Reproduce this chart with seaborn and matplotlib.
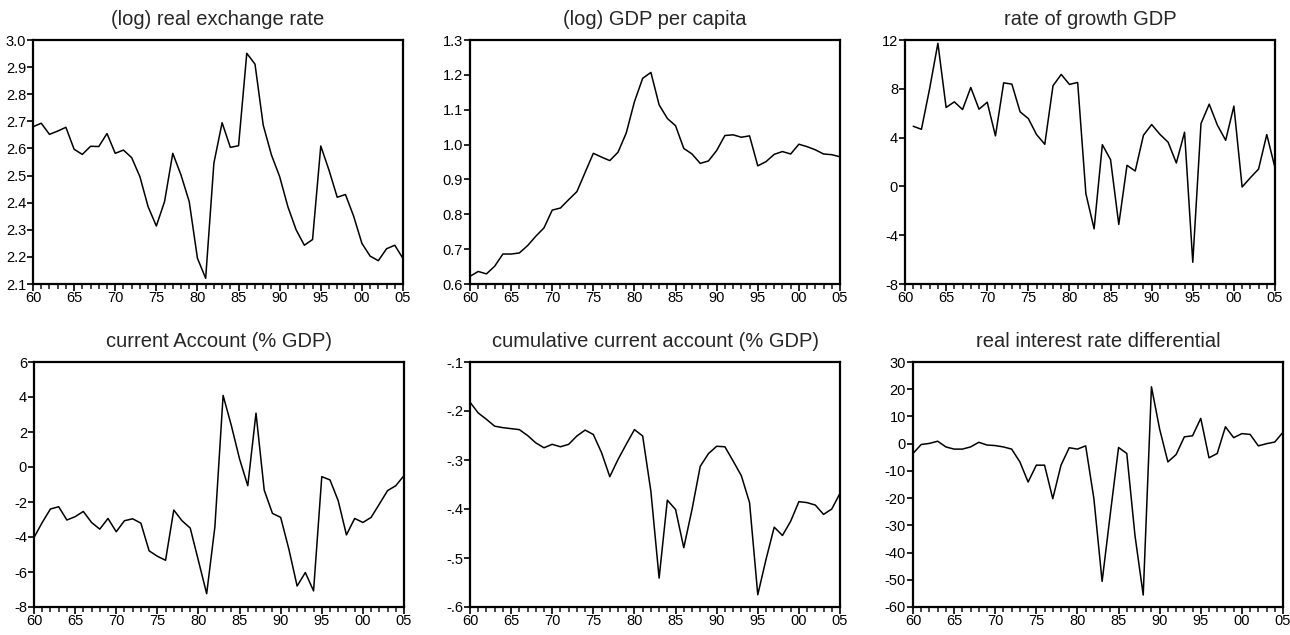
import numpy as np
import pandas as pd
import matplotlib
matplotlib.use("Agg")
import matplotlib.pyplot as plt
from matplotlib.ticker import MultipleLocator
import seaborn as sns

# years 1960-2005
years = list(range(1960, 2006))

# (log) real exchange rate
rer = [2.68, 2.693, 2.652, 2.664, 2.678, 2.597, 2.578, 2.608, 2.607, 2.655,
       2.582, 2.594, 2.566, 2.496, 2.385, 2.314, 2.404, 2.582, 2.502, 2.404,
       2.195, 2.121, 2.546, 2.695, 2.604, 2.61, 2.951, 2.911, 2.686, 2.576,
       2.496, 2.385, 2.30, 2.243, 2.264, 2.609, 2.52, 2.42, 2.43, 2.35,
       2.25, 2.203, 2.186, 2.23, 2.243, 2.194]

# (log) GDP per capita
gdp_pc = [0.622, 0.636, 0.629, 0.651, 0.686, 0.686, 0.689, 0.710, 0.737, 0.761,
          0.812, 0.818, 0.842, 0.865, 0.920, 0.975, 0.964, 0.954, 0.978, 1.033,
          1.123, 1.190, 1.207, 1.114, 1.075, 1.054, 0.989, 0.973, 0.946, 0.953,
          0.983, 1.026, 1.028, 1.021, 1.025, 0.939, 0.951, 0.972, 0.980, 0.973,
          1.001, 0.994, 0.985, 0.973, 0.971, 0.965]

# rate of growth GDP (no value for 1960)
growth = [np.nan, 4.93, 4.68, 8.03, 11.73, 6.47, 6.93, 6.30, 8.11, 6.33,
          6.90, 4.14, 8.49, 8.38, 6.11, 5.56, 4.25, 3.45, 8.25, 9.18,
          8.36, 8.52, -0.60, -3.48, 3.42, 2.19, -3.12, 1.73, 1.26, 4.19,
          5.07, 4.27, 3.62, 1.92, 4.44, -6.22, 5.15, 6.74, 5.01, 3.78,
          6.58, -0.05, 0.71, 1.42, 4.25, 1.53]

# current account (% GDP)
ca = [-4.03, -3.17, -2.40, -2.27, -3.03, -2.84, -2.54, -3.17, -3.55, -2.94,
      -3.70, -3.07, -2.96, -3.21, -4.79, -5.10, -5.33, -2.46, -3.07, -3.49,
      -5.36, -7.24, -3.42, 4.09, 2.37, 0.46, -1.07, 3.08, -1.32, -2.65,
      -2.88, -4.70, -6.80, -6.03, -7.08, -0.55, -0.74, -1.93, -3.88, -2.94,
      -3.17, -2.88, -2.12, -1.35, -1.07, -0.49]

# cumulative current account (% GDP)
cum_ca = [-0.182, -0.204, -0.217, -0.231, -0.234, -0.236, -0.238, -0.250, -0.265, -0.275,
          -0.268, -0.273, -0.268, -0.251, -0.239, -0.248, -0.285, -0.334, -0.299, -0.268,
          -0.238, -0.251, -0.364, -0.541, -0.382, -0.401, -0.479, -0.401, -0.313, -0.287,
          -0.272, -0.273, -0.302, -0.332, -0.387, -0.575, -0.503, -0.437, -0.454, -0.425,
          -0.385, -0.387, -0.392, -0.411, -0.400, -0.368]

# real interest rate differential
rir = [-3.6, -0.3, 0.1, 0.9, -1.2, -2.0, -2.0, -1.2, 0.5, -0.5,
       -0.7, -1.2, -2.0, -6.7, -14.1, -7.9, -7.9, -20.2, -7.9, -1.5,
       -2.0, -0.8, -20.2, -50.6, -25.7, -1.4, -3.6, -33.8, -55.6, 20.9,
       5.3, -6.7, -4.0, 2.5, 2.9, 9.3, -5.2, -3.6, 6.2, 2.2,
       3.7, 3.4, -0.8, 0.0, 0.6, 4.2]

titles = ["(log) real exchange rate", "(log) GDP per capita", "rate of growth GDP",
          "current Account (% GDP)", "cumulative current account (% GDP)",
          "real interest rate differential"]

yticks = [
    [2.1, 2.2, 2.3, 2.4, 2.5, 2.6, 2.7, 2.8, 2.9, 3.0],
    [0.6, 0.7, 0.8, 0.9, 1.0, 1.1, 1.2, 1.3],
    [-8, -4, 0, 4, 8, 12],
    [-8, -6, -4, -2, 0, 2, 4, 6],
    [-0.6, -0.5, -0.4, -0.3, -0.2, -0.1],
    [-60, -50, -40, -30, -20, -10, 0, 10, 20, 30],
]
ytick_labels = [
    ["2.1", "2.2", "2.3", "2.4", "2.5", "2.6", "2.7", "2.8", "2.9", "3.0"],
    ["0.6", "0.7", "0.8", "0.9", "1.0", "1.1", "1.2", "1.3"],
    ["-8", "-4", "0", "4", "8", "12"],
    ["-8", "-6", "-4", "-2", "0", "2", "4", "6"],
    ["-.6", "-.5", "-.4", "-.3", "-.2", "-.1"],
    ["-60", "-50", "-40", "-30", "-20", "-10", "0", "10", "20", "30"],
]
xtick_years = [1960, 1965, 1970, 1975, 1980, 1985, 1990, 1995, 2000, 2005]
xtick_labels = ["60", "65", "70", "75", "80", "85", "90", "95", "00", "05"]

series = [rer, gdp_pc, growth, ca, cum_ca, rir]

sns.set_style("ticks")
plt.rcParams['font.family'] = ['Liberation Sans', 'DejaVu Sans']

W, H = 1290, 635
fig = plt.figure(figsize=(W / 100, H / 100), dpi=100)

# axes boxes in pixels: left, top, right, bottom
boxes = [
    (33, 40, 403, 284), (470, 40, 840, 284), (905, 40, 1275, 284),
    (34, 362, 404, 607), (470, 362, 840, 607), (913, 362, 1283, 607),
]

for i, (l, t, r, b) in enumerate(boxes):
    ax = fig.add_axes([l / W, 1 - b / H, (r - l) / W, (b - t) / H])
    df = pd.DataFrame({"year": years, "value": series[i]})
    sns.lineplot(data=df, x="year", y="value", ax=ax, color="black", linewidth=1.1)
    ax.set_xlim(1960, 2005)
    ax.set_ylim(yticks[i][0], yticks[i][-1])
    ax.set_yticks(yticks[i])
    ax.set_yticklabels(ytick_labels[i])
    ax.set_xticks(xtick_years)
    ax.set_xticklabels(xtick_labels)
    ax.xaxis.set_minor_locator(MultipleLocator(1))
    ax.tick_params(axis="both", which="major", direction="out", length=4,
                   width=1.2, labelsize=10.5, pad=1, colors="black")
    ax.tick_params(axis="x", which="major", length=5, pad=0)
    ax.tick_params(axis="x", which="minor", direction="out", length=3.5, width=1.2)
    ax.set_xlabel("")
    ax.set_ylabel("")
    for side in ["top", "right", "left", "bottom"]:
        ax.spines[side].set_visible(True)
        ax.spines[side].set_color("black")
        ax.spines[side].set_linewidth(1.6)
    ax.set_title(titles[i], fontsize=14.5, pad=11)

fig.savefig("out.png", dpi=100)
